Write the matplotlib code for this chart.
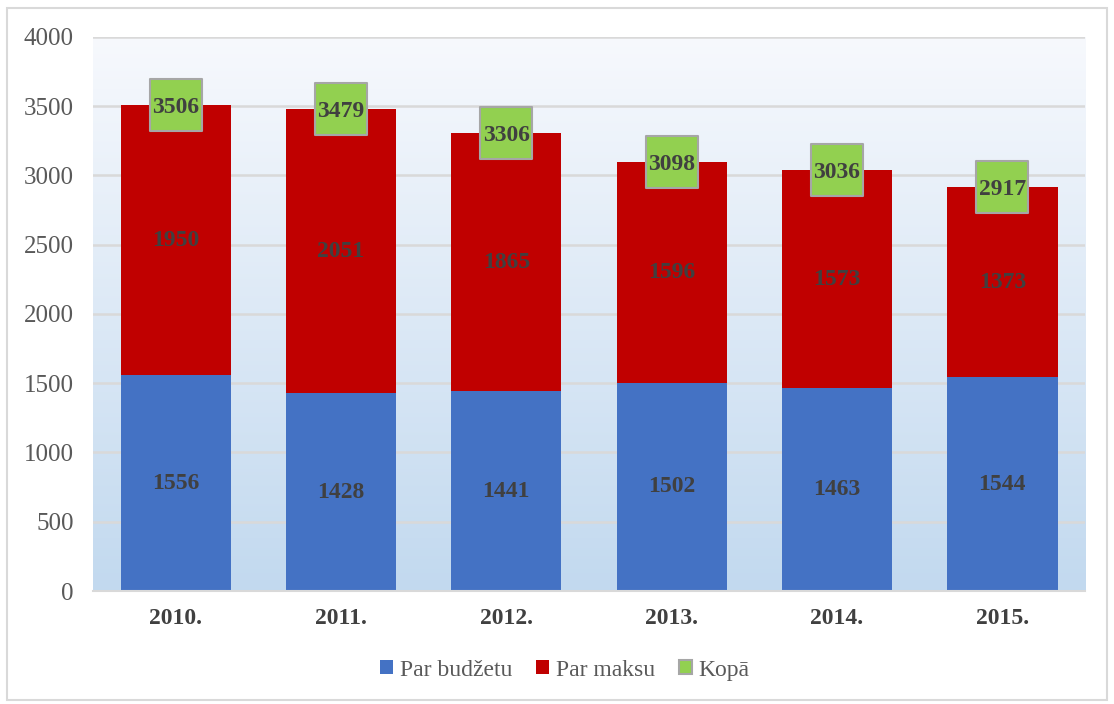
import numpy as np
import matplotlib
matplotlib.use('Agg')
import matplotlib.pyplot as plt
from matplotlib.patches import Patch, Rectangle

# Data
years = ["2010.", "2011.", "2012.", "2013.", "2014.", "2015."]
budget = [1556, 1428, 1441, 1502, 1463, 1544]
paid = [1950, 2051, 1865, 1596, 1573, 1373]
total = [3506, 3479, 3306, 3098, 3036, 2917]

BLUE = "#4472c4"
RED = "#c00000"
GREEN = "#92d050"
LABEL = "#404040"
TICK = "#595959"

plt.rcParams["font.family"] = ["Liberation Serif", "DejaVu Serif"]

fig = plt.figure(figsize=(11.14, 7.04), dpi=100)
ax = fig.add_axes([0.0835, 0.1605, 0.8905, 0.787])

# outer frame of the chart
fig.patches.append(Rectangle((0.006, 0.006), 0.988, 0.982, transform=fig.transFigure,
                             fill=False, edgecolor="#d9d9d9", linewidth=1.5))

# gradient background of the plot area
grad = np.linspace(0, 1, 256).reshape(-1, 1)
cmap = matplotlib.colors.LinearSegmentedColormap.from_list("bg", ["#c2d9ef", "#f7f9fd"])
ax.imshow(grad, extent=[0, 1, 0, 1], transform=ax.transAxes, origin="lower",
          cmap=cmap, aspect="auto", zorder=0)

x = np.arange(len(years))
w = 0.667
ax.bar(x, budget, w, color=BLUE, zorder=2)
ax.bar(x, paid, w, bottom=budget, color=RED, zorder=2)

# square green boxes for totals (~54 px)
ax.scatter(x, total, marker="s", s=(53 * 0.72) ** 2, color=GREEN,
           edgecolor="#a6a6a6", linewidth=1.5, zorder=4)

for i in range(len(years)):
    ax.text(x[i], budget[i] / 2, str(budget[i]), ha="center", va="center",
            fontsize=17, fontweight="bold", color=LABEL, zorder=5)
    ax.text(x[i], budget[i] + paid[i] / 2, str(paid[i]), ha="center", va="center",
            fontsize=17, fontweight="bold", color=LABEL, zorder=5)
    ax.text(x[i], total[i], str(total[i]), ha="center", va="center_baseline",
            fontsize=17, fontweight="bold", color=LABEL, zorder=5)

ax.set_xlim(-0.5, len(years) - 0.5)
ax.set_ylim(0, 4000)
ax.set_yticks(np.arange(0, 4001, 500))
ax.yaxis.grid(True, color="#d9d9d9", linewidth=1.8, zorder=1)
ax.set_axisbelow(True)
for s in ["top", "right", "left"]:
    ax.spines[s].set_visible(False)
ax.spines["bottom"].set_color("#d9d9d9")
ax.spines["bottom"].set_linewidth(1.5)
ax.tick_params(axis="y", length=0, pad=14, labelsize=18, labelcolor=TICK)
ax.tick_params(axis="x", length=0, pad=12, labelsize=17, labelcolor=LABEL)
ax.set_xticks(x)
ax.set_xticklabels(years, fontweight="bold")

handles = [Patch(facecolor=BLUE, label="Par budžetu"),
           Patch(facecolor=RED, label="Par maksu"),
           Patch(facecolor=GREEN, edgecolor="#a6a6a6", linewidth=1.5, label="Kopā")]
leg = fig.legend(handles=handles, loc="center", bbox_to_anchor=(0.507, 0.048), ncol=3,
                 frameon=False, fontsize=17, handlelength=0.55, handleheight=0.55,
                 handletextpad=0.3, columnspacing=1.0)
for t in leg.get_texts():
    t.set_color(TICK)

fig.savefig("out.png", dpi=100)
